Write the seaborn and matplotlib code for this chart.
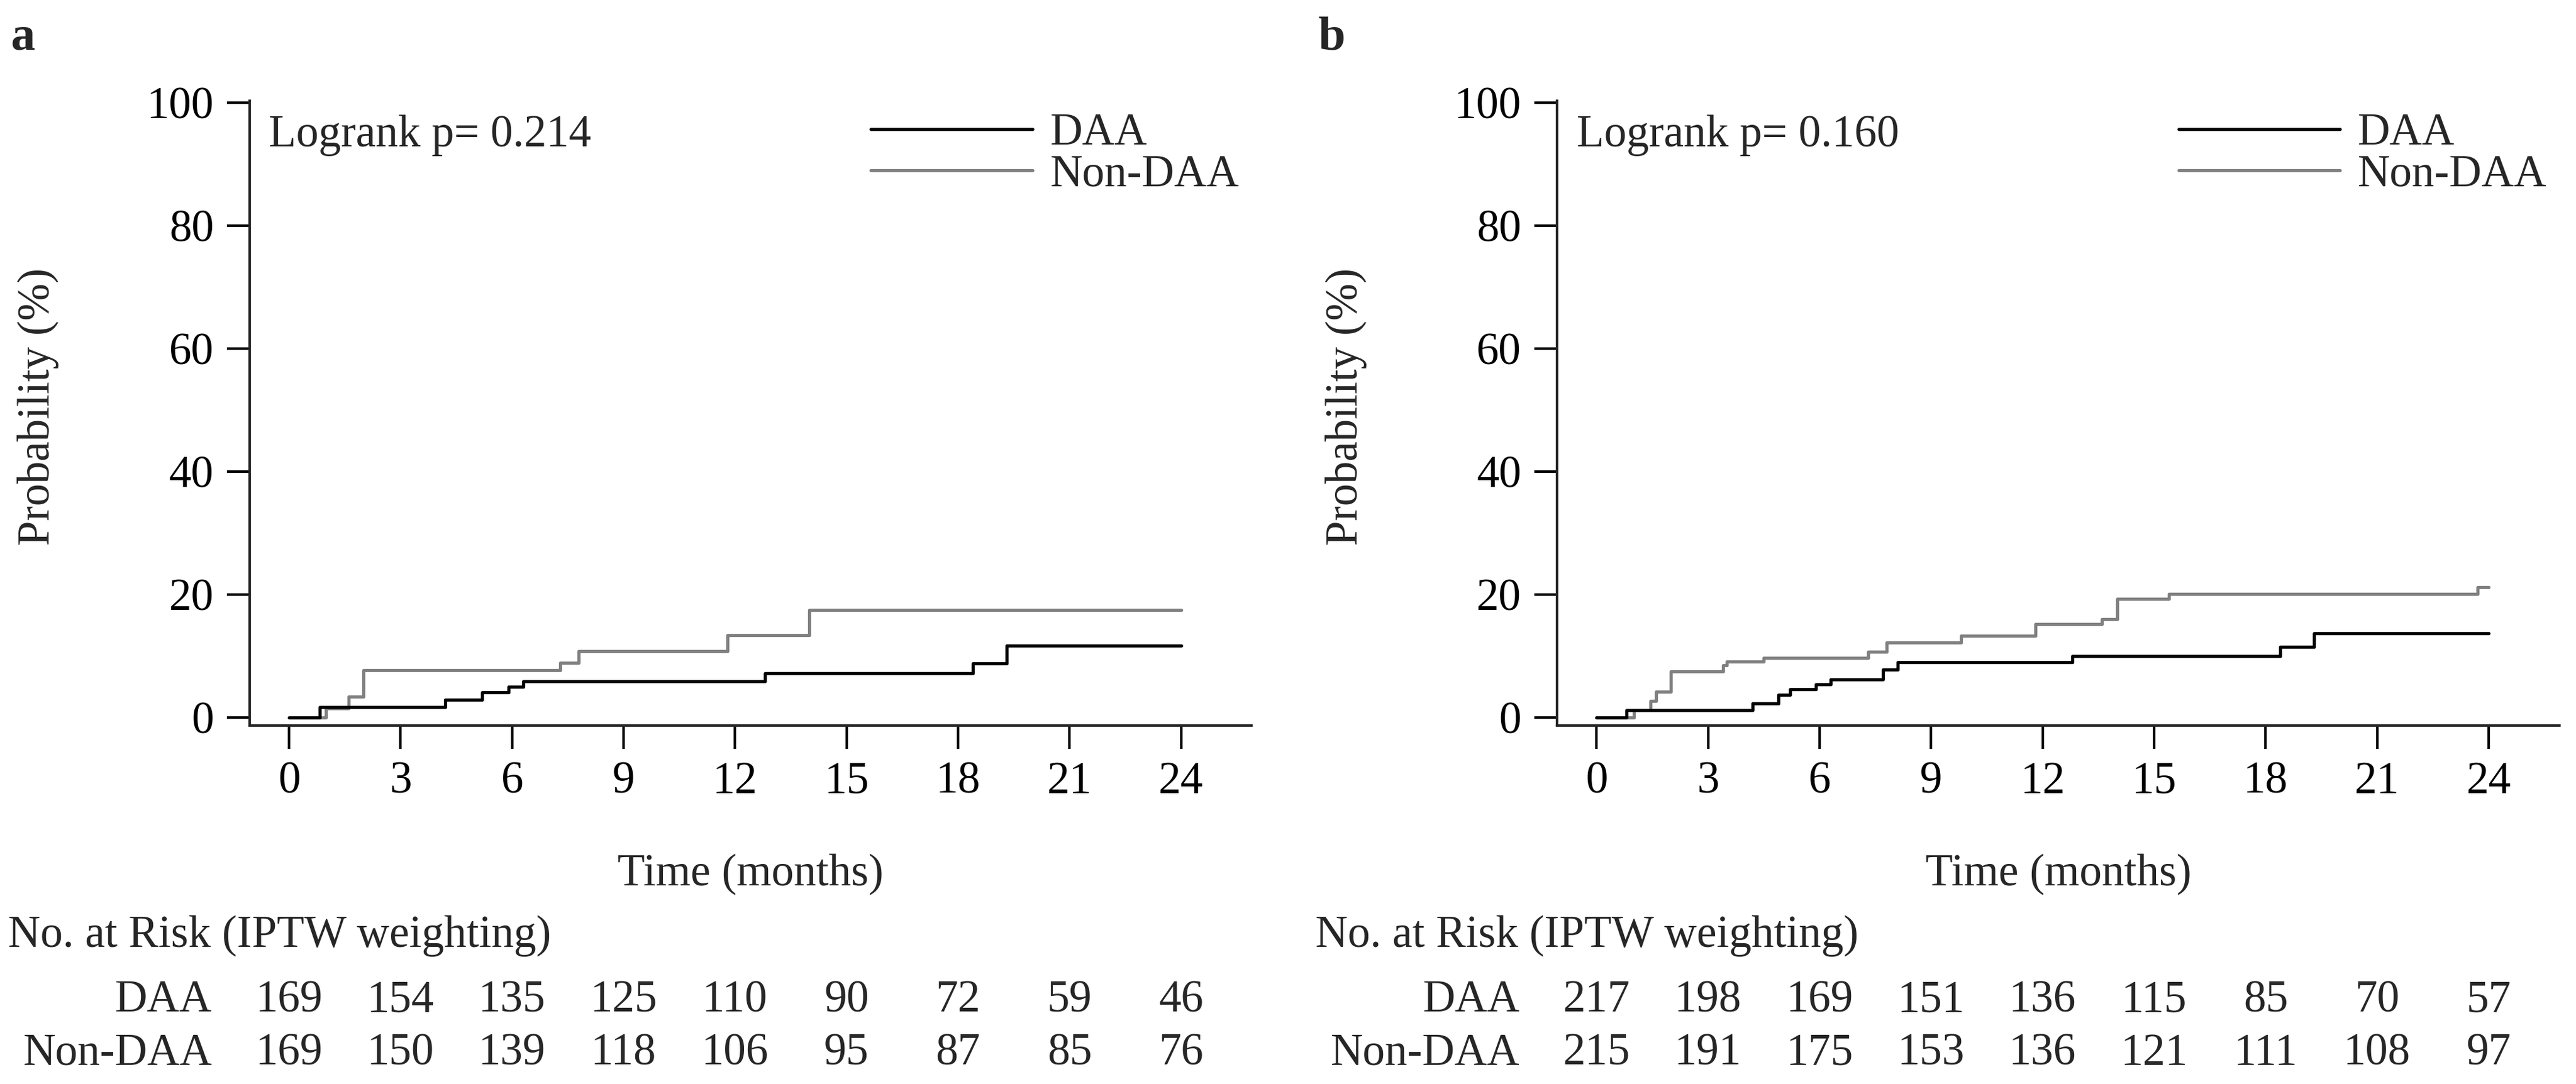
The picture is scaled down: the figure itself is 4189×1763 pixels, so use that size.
import matplotlib
matplotlib.use("Agg")
import matplotlib.pyplot as plt
import matplotlib.transforms as mtransforms
from matplotlib.lines import Line2D
import pandas as pd
import seaborn as sns

# Kaplan-Meier style cumulative incidence (%)
a_daa_t = [0, 0.82, 4.2, 5.2, 5.9, 6.3, 12.8, 18.4, 19.3, 24]
a_daa_p = [0, 1.7, 2.9, 4.1, 5.0, 5.9, 7.2, 8.8, 11.7, 11.7]
a_non_t = [0, 1.0, 1.6, 2.0, 7.3, 7.8, 11.8, 14.0, 24]
a_non_p = [0, 1.5, 3.4, 7.7, 8.9, 10.8, 13.4, 17.5, 17.5]

b_daa_t = [0, 0.8, 4.2, 4.9, 5.2, 5.9, 6.3, 7.7, 8.1, 12.8, 18.4, 19.3, 24]
b_daa_p = [0, 1.2, 2.3, 3.7, 4.6, 5.4, 6.2, 7.8, 9.0, 10.0, 11.5, 13.7, 13.7]
b_non_t = [0, 1.0, 1.45, 1.6, 2.0, 3.4, 3.5, 4.5, 7.3, 7.8, 9.8, 11.8, 13.6, 14.0, 15.4, 23.7, 24]
b_non_p = [0, 1.2, 2.7, 4.2, 7.5, 8.5, 9.1, 9.7, 10.7, 12.2, 13.3, 15.2, 16.0, 19.3, 20.1, 21.2, 21.2]

groups = ["DAA", "Non-DAA"]
risk_times = [0, 3, 6, 9, 12, 15, 18, 21, 24]
a_risk_daa = [169, 154, 135, 125, 110, 90, 72, 59, 46]
a_risk_non = [169, 150, 139, 118, 106, 95, 87, 85, 76]
b_risk_daa = [217, 198, 169, 151, 136, 115, 85, 70, 57]
b_risk_non = [215, 191, 175, 153, 136, 121, 111, 108, 97]
pvals = ["0.214", "0.160"]
letters = ["a", "b"]

palette = {"DAA": "black", "Non-DAA": "#808080"}

sns.set_style("ticks")
plt.rcParams["font.family"] = ["Liberation Serif", "DejaVu Serif"]
plt.rcParams["axes.linewidth"] = 1.0
fs = 17.5
lw = 1.25

W, H = 4189, 1763
fig = plt.figure(figsize=(W / 300, H / 300), dpi=300)

panels = [
    (a_daa_t, a_daa_p, a_non_t, a_non_p, a_risk_daa, a_risk_non, 0.0969),
    (b_daa_t, b_daa_p, b_non_t, b_non_p, b_risk_daa, b_risk_non, 0.6045),
]

for i, (dt, dp, nt, np_, rd, rn, left) in enumerate(panels):
    ax = fig.add_axes([left, 0.3307, 0.389, 0.5765])
    df = pd.concat([
        pd.DataFrame({"time": dt, "prob": dp, "group": "DAA"}),
        pd.DataFrame({"time": nt, "prob": np_, "group": "Non-DAA"}),
    ])
    # draw Non-DAA first so DAA sits on top where they overlap
    sns.lineplot(data=df, x="time", y="prob", hue="group",
                 hue_order=groups[::-1], palette=palette,
                 drawstyle="steps-post", estimator=None, linewidth=lw,
                 legend=False, ax=ax)

    ax.set_xlim(-1.06, 25.9)
    ax.set_ylim(-1.33, 100.3)
    ax.set_xticks(risk_times)
    ax.set_yticks([0, 20, 40, 60, 80, 100])
    ax.tick_params(axis="both", labelsize=fs, width=1.0, length=9, pad=5,
                   colors="black")
    sns.despine(ax=ax)

    ax.set_xlabel("Time (months)", fontsize=fs)
    ax.xaxis.set_label_coords(0.5, -0.205)
    ax.set_ylabel("Probability (%)", fontsize=fs)
    ax.yaxis.set_label_coords(-0.19, 0.51)

    ax.text(-0.54, 92.9, f"Logrank p= {pvals[i]}", fontsize=fs,
            va="baseline", ha="left")

    handles = [Line2D([], [], color=palette[g], lw=lw) for g in groups]
    ax.legend(handles, groups, loc="upper left", bbox_to_anchor=(0.62, 0.98),
              frameon=False, fontsize=fs, handlelength=3.6,
              handletextpad=0.4, labelspacing=0.0, borderpad=0,
              borderaxespad=0)

    # risk table under the axis
    tr = mtransforms.blended_transform_factory(ax.transData, fig.transFigure)
    ax_left_px = left * W
    fig.text((ax_left_px - 393) / W, 0.1265, "No. at Risk (IPTW weighting)",
             fontsize=fs, va="baseline", ha="left")
    fig.text((ax_left_px - 61) / W, 0.0669, "DAA", fontsize=fs,
             va="baseline", ha="right")
    fig.text((ax_left_px - 61) / W, 0.0176, "Non-DAA", fontsize=fs,
             va="baseline", ha="right")
    for t, n1, n2 in zip(risk_times, rd, rn):
        ax.text(t, 0.0669, str(n1), transform=tr, fontsize=fs,
                ha="center", va="baseline", clip_on=False)
        ax.text(t, 0.0176, str(n2), transform=tr, fontsize=fs,
                ha="center", va="baseline", clip_on=False)

    fig.text((ax_left_px - 388) / W, 0.9546, letters[i], fontsize=19,
             fontweight="bold", va="baseline", ha="left")

fig.savefig("out.png", dpi=300)
